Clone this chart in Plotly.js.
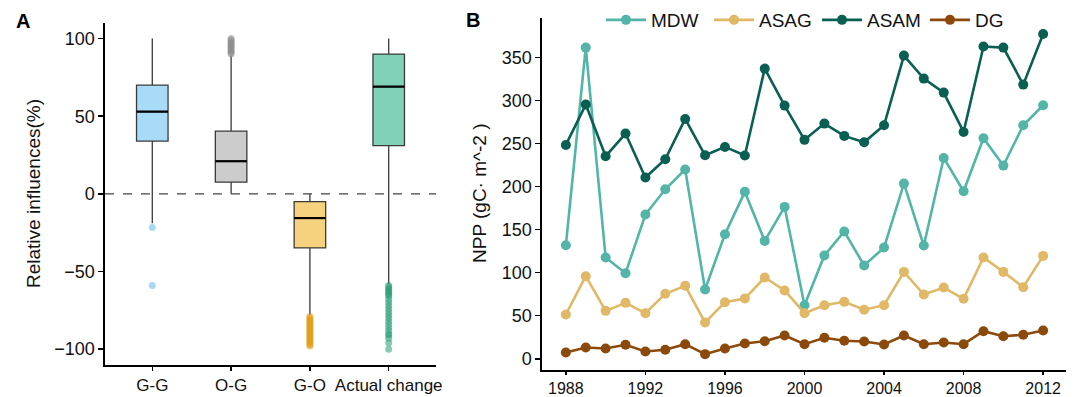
<!DOCTYPE html>
<html>
<head>
<meta charset="utf-8">
<script src="https://cdn.plot.ly/plotly-3.0.1.min.js"></script>
<style>html,body{margin:0;padding:0;background:#fff;}#chart{width:1077px;height:397px;}</style>
</head>
<body>
<div id="chart"></div>
<script>
// ---------- Panel A data (box statistics) ----------
const boxCats = ["G-G", "O-G", "G-O", "Actual change"];
const boxQ1 = [34, 7.5, -34.8, 31];
const boxMedian = [53, 21, -15.6, 69];
const boxQ3 = [70, 40.4, -5, 90];
const boxLower = [-19, 0, -78, -58];
const boxUpper = [100, 89, 0, 100];
const boxFill = ["#a8dbf7", "#cccccc", "#f7d27e", "#7fd1b7"];
const outGG = [-21.6, -59];
const outOG = [90, 91, 92, 93, 94, 95, 96, 97, 98, 99, 100];
const outGO = [-79, -80, -81, -82, -83, -84, -85, -86, -87, -88, -89, -90, -91, -92, -93, -94, -95, -96, -97, -98];
const outAC = [-59, -60, -61, -62, -63, -64, -65, -66, -68, -70, -72, -74, -76, -78, -80, -82, -84, -86, -88, -90, -91, -93, -96, -100];
const outColor = ["#a8d8f2", "#8a8a8a", "#e09d10", "#2a9e78"];

// ---------- Panel B data ----------
const years = [1988,1989,1990,1991,1992,1993,1994,1995,1996,1997,1998,1999,2000,2001,2002,2003,2004,2005,2006,2007,2008,2009,2010,2011,2012];
const MDW = [132,361.6,117.7,99.5,167.6,197,220,80.5,144.8,194,137,176.5,62.3,120,147.9,108.4,129.3,203.6,131.6,233.4,194.7,256.3,224.5,271.4,294.6];
const ASAG = [51.5,96,55.7,65,53,75.5,84.8,42.2,65.8,70,94.5,79.4,53,62.3,66.2,57,62.3,101,74.7,82.8,69.7,117.7,101,83.2,119.6];
const ASAM = [248.5,295.4,235.4,261.7,210.6,231.9,278.7,236.5,246.2,236.2,337.2,294.2,254.4,273.3,259,251.6,271.4,352.3,325.6,309.3,263.6,362.8,361.6,318.6,377.5];
const DG = [7.4,13.2,12,16.3,8.5,10.5,17,5.4,12,17.8,20.5,27.1,17,24.4,20.9,20.1,16.6,27.1,17,19,17,32.1,26.3,27.9,32.9];
const seriesNames = ["MDW", "ASAG", "ASAM", "DG"];
const seriesData = [MDW, ASAG, ASAM, DG];
const seriesColors = ["#52b5a8", "#e0b866", "#0a5f53", "#8b4a0c"];
const yearTicks = [1988, 1992, 1996, 2000, 2004, 2008, 2012];

const FONT = "Arial, 'Liberation Sans', sans-serif";
const traces = [];
const halfW = 0.2;

// Boxes
boxCats.forEach((c, i) => {
  traces.push({
    type: "box", x: [i], q1: [boxQ1[i]], median: [boxMedian[i]], q3: [boxQ3[i]],
    lowerfence: [boxLower[i]], upperfence: [boxUpper[i]],
    width: 2 * halfW, whiskerwidth: 0, boxpoints: false,
    fillcolor: boxFill[i], line: {color: "#3a3a3a", width: 1.3},
    xaxis: "x", yaxis: "y", showlegend: false, hoverinfo: "skip"
  });
});
// Median lines
const medX = [], medY = [];
boxMedian.forEach((m, i) => { medX.push(i - halfW, i + halfW, null); medY.push(m, m, null); });
traces.push({type: "scatter", mode: "lines", x: medX, y: medY, line: {color: "#000", width: 2.2},
  xaxis: "x", yaxis: "y", showlegend: false, hoverinfo: "skip"});
// Outliers
[outGG, outOG, outGO, outAC].forEach((arr, i) => {
  traces.push({type: "scatter", mode: "markers", x: arr.map(() => i), y: arr,
    marker: {color: outColor[i], size: 7, opacity: i === 0 ? 1 : 0.55, line: {width: 0}},
    xaxis: "x", yaxis: "y", showlegend: false, hoverinfo: "skip"});
});

// Lines panel B
seriesNames.forEach((n, k) => {
  traces.push({type: "scatter", mode: "lines+markers", name: n, x: years, y: seriesData[k],
    line: {color: seriesColors[k], width: 2.6}, marker: {color: seriesColors[k], size: 10},
    xaxis: "x2", yaxis: "y2"});
});

const W = 1077, H = 397;
const axCommon = {showgrid: false, zeroline: false, showline: true, linecolor: "#000", linewidth: 1.6,
  ticks: "outside", ticklen: 5, tickwidth: 1.4, tickcolor: "#000", tickangle: 0,
  tickfont: {family: FONT, size: 18, color: "#111"}, automargin: false};
const xCommon = Object.assign({}, axCommon, {ticklen: 4, tickfont: {family: FONT, size: 17, color: "#111"}});

const layout = {
  width: W, height: H, margin: {l: 0, r: 0, t: 0, b: 0}, autosize: false,
  paper_bgcolor: "#fff", plot_bgcolor: "rgba(0,0,0,0)",
  font: {family: FONT},
  xaxis: Object.assign({}, xCommon, {domain: [105 / W, 436 / W], range: [-0.6, 3.6],
    tickvals: boxCats.map((c, i) => i), ticktext: boxCats, anchor: "y"}),
  yaxis: Object.assign({}, axCommon, {domain: [1 - 365 / H, 1 - 23 / H], range: [-110.2, 110],
    tickvals: [-100, -50, 0, 50, 100], anchor: "x"}),
  xaxis2: Object.assign({}, xCommon, {domain: [542 / W, 1066 / W], range: [1986.8, 2013.15],
    tickvals: yearTicks, anchor: "y2", ticklen: 3, tickfont: {family: FONT, size: 16, color: "#111"}}),
  yaxis2: Object.assign({}, axCommon, {domain: [1 - 370 / H, 1 - 18 / H], range: [-13, 396],
    tickvals: [0, 50, 100, 150, 200, 250, 300, 350], anchor: "x2"}),
  shapes: [{type: "line", xref: "x domain", yref: "y", x0: 0, x1: 1, y0: 0, y1: 0,
    line: {color: "#444", width: 1.3, dash: "dash"}}],
  legend: {orientation: "h", x: 601 / W, xanchor: "left", y: 1 - 20 / H, yanchor: "middle",
    font: {family: FONT, size: 19, color: "#111"}, bgcolor: "rgba(0,0,0,0)",
    entrywidth: 53, entrywidthmode: "pixels", itemwidth: 40, tracegroupgap: 0},
  annotations: [
    {text: "<b>A</b>", xref: "paper", yref: "paper", x: 14 / W, y: 1 - 21 / H, xanchor: "left", yanchor: "middle",
      showarrow: false, font: {family: FONT, size: 20, color: "#000"}},
    {text: "<b>B</b>", xref: "paper", yref: "paper", x: 464 / W, y: 1 - 20 / H, xanchor: "left", yanchor: "middle",
      showarrow: false, font: {family: FONT, size: 20, color: "#000"}},
    {text: "Relative influences(%)", xref: "paper", yref: "paper", x: 33 / W, y: 1 - 194 / H, textangle: -90,
      xanchor: "center", yanchor: "middle", showarrow: false, font: {family: FONT, size: 19, color: "#111"}},
    {text: "NPP (gC· m^-2 )", xref: "paper", yref: "paper", x: 479 / W, y: 1 - 194 / H, textangle: -90,
      xanchor: "center", yanchor: "middle", showarrow: false, font: {family: FONT, size: 19, color: "#111"}}
  ]
};

Plotly.newPlot("chart", traces, layout, {displayModeBar: false, staticPlot: true});
</script>
</body>
</html>
